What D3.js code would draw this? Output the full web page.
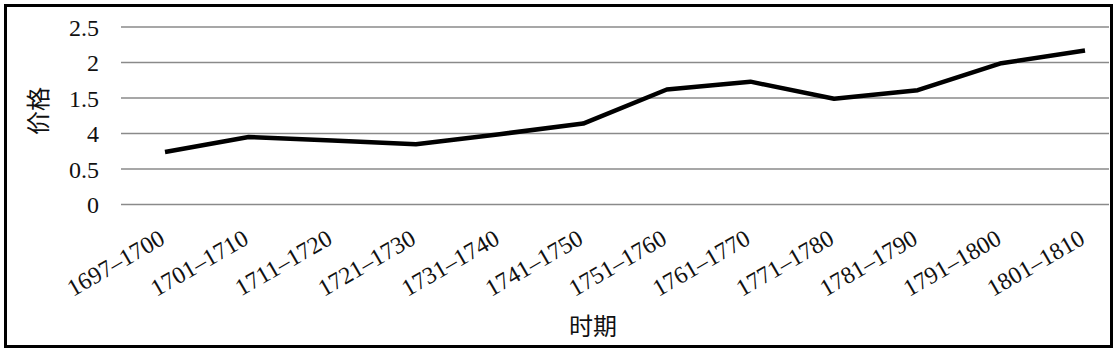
<!DOCTYPE html>
<html>
<head>
<meta charset="utf-8">
<script src="https://cdn.jsdelivr.net/npm/d3@7"></script>
<style>
  body { margin: 0; background: #fff; }
  svg { display: block; }
</style>
</head>
<body>
<div id="chart"></div>
<script>
var periods = ["1697–1700", "1701–1710", "1711–1720", "1721–1730", "1731–1740", "1741–1750",
               "1751–1760", "1761–1770", "1771–1780", "1781–1790", "1791–1800", "1801–1810"];
var prices = [0.74, 0.95, 0.90, 0.85, 0.99, 1.14, 1.62, 1.73, 1.49, 1.61, 1.99, 2.17];
var yTicks = [0, 0.5, 1, 1.5, 2, 2.5];
var yTickLabels = ["0", "0.5", "4", "1.5", "2", "2.5"];  // as printed in the source

var width = 1118, height = 353;
var plot = {left: 121, right: 1109, top: 27, bottom: 204.5};

var svg = d3.select("#chart").append("svg")
    .attr("width", width)
    .attr("height", height);

svg.append("rect")
    .attr("x", 5.5).attr("y", 5.5)
    .attr("width", width - 12).attr("height", height - 12)
    .attr("fill", "#fff")
    .attr("stroke", "#000")
    .attr("stroke-width", 3);

var x = d3.scalePoint()
    .domain(periods)
    .range([165, 1085]);

var y = d3.scaleLinear()
    .domain([0, 2.5])
    .range([plot.bottom, plot.top]);

// gridlines
svg.append("g").attr("class", "grid")
  .selectAll("line")
  .data(yTicks)
  .enter().append("line")
    .attr("x1", plot.left).attr("x2", plot.right)
    .attr("y1", function(d){ return y(d); })
    .attr("y2", function(d){ return y(d); })
    .attr("stroke", "#8a8a8a")
    .attr("stroke-width", 1.5);

// y axis labels
var yAxis = d3.axisLeft(y)
  .tickValues(yTicks)
  .tickFormat(function(d, i){ return yTickLabels[i]; })
  .tickSize(0)
  .tickPadding(0);

var gy = svg.append("g")
    .attr("transform", "translate(99,0)")
    .call(yAxis);
gy.select(".domain").remove();
gy.selectAll("text")
    .style("font-family", "'Liberation Serif'")
    .style("font-size", "24px")
    .attr("fill", "#111")
    .attr("dy", "0.34em");

// x labels
var xAxis = d3.axisBottom(x).tickSize(0).tickPadding(0);
var gx = svg.append("g")
    .attr("transform", "translate(0," + plot.bottom + ")")
    .call(xAxis);
gx.select(".domain").remove();
gx.selectAll("text")
    .style("font-family", "'Liberation Serif'")
    .style("font-size", "24px")
    .attr("fill", "#111")
    .attr("text-anchor", "end")
    .attr("dy", 0)
    .attr("y", 0)
    .attr("transform", "translate(1,38.5) rotate(-30)");

// line
var line = d3.line()
    .x(function(d, i){ return x(periods[i]); })
    .y(function(d){ return y(d); });

svg.append("path")
    .datum(prices)
    .attr("fill", "none")
    .attr("stroke", "#000")
    .attr("stroke-width", 4.5)
    .attr("stroke-linejoin", "round")
    .attr("d", line);

// axis titles
svg.append("text")
    .attr("transform", "translate(47,111) rotate(-90)")
    .attr("text-anchor", "middle")
    .style("font-family", "'Noto Sans CJK SC'")
    .style("font-size", "24px")
    .attr("fill", "#111")
    .text("价格");

svg.append("text")
    .attr("x", 593)
    .attr("y", 335)
    .attr("text-anchor", "middle")
    .style("font-family", "'Noto Sans CJK SC'")
    .style("font-size", "24px")
    .attr("fill", "#111")
    .text("时期");
</script>
</body>
</html>
